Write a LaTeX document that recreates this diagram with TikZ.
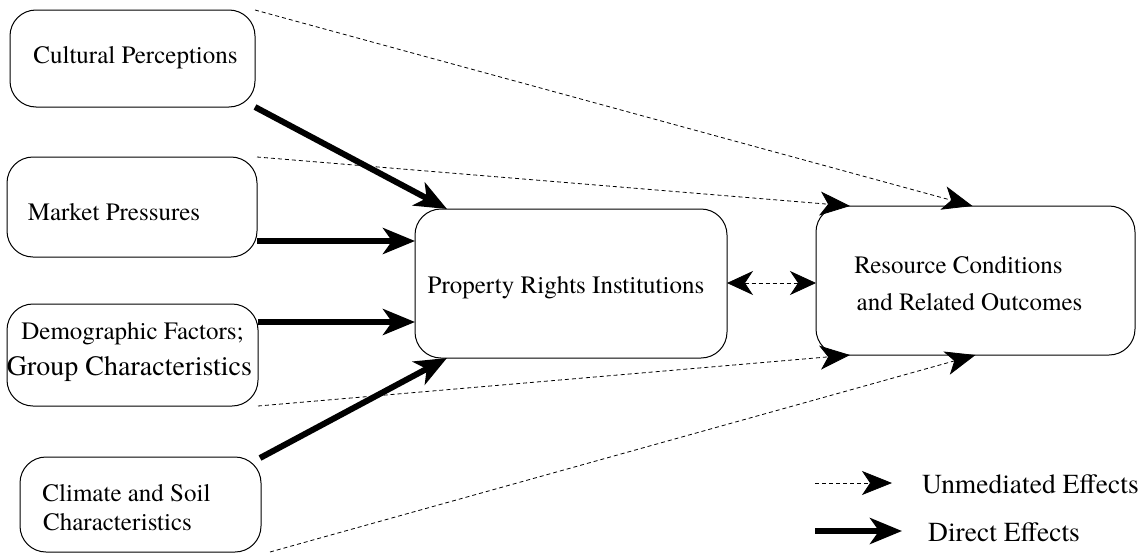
\documentclass[tikz,border=0pt]{standalone}
\usepackage{fontspec}
\newfontfamily\tms{texgyretermes-regular.otf}
\usetikzlibrary{arrows.meta}
\begin{document}
\begin{tikzpicture}[x=1pt,y=-1pt,
  box/.style={draw,line width=1pt,rounded corners=26pt,inner sep=0pt,outer sep=0pt},
  lbl/.style={font=\tms\fontsize{25}{30}\selectfont,inner sep=0pt,align=center},
  direct/.style={line width=6pt,-{Stealth[length=32pt,width=26pt,inset=9pt]}},
  unmed/.style={line width=0.8pt,dash pattern=on 4pt off 3pt,-{Stealth[length=30pt,width=24pt,inset=8pt]}},
  unmedboth/.style={line width=0.8pt,dash pattern=on 4pt off 3pt,{Stealth[length=26pt,width=24pt,inset=8pt]}-{Stealth[length=26pt,width=24pt,inset=8pt]}}]
\useasboundingbox (0,0) rectangle (1147,554);
% boxes
\node[box,minimum width=245pt,minimum height=97pt] (cp) at (132.5,58.5) {};
\node[box,minimum width=250pt,minimum height=100pt] (mp) at (132,207) {};
\node[box,minimum width=251pt,minimum height=102pt] (df) at (132.5,355) {};
\node[box,minimum width=241pt,minimum height=95pt] (cs) at (140.5,504.5) {};
\node[box,minimum width=312pt,minimum height=149pt] (pr) at (571,283.5) {};
\node[box,minimum width=319pt,minimum height=149pt] (rc) at (975.5,280.5) {};
% texts
\node[lbl] (tcp) at (135.5,58) {Cultural Perceptions};
\node[lbl] (tmp) at (114,212) {Market Pressures};
\node[lbl] (tdf1) at (132.5,334) {Demographic Factors;};
\node[lbl,font=\tms\fontsize{28}{33}\selectfont] (tdf2) at (129.5,369) {Group Characteristics};
\node[lbl] (tcs1) at (126.5,493) {Climate and Soil};
\node[lbl] (tcs2) at (117.5,522) {Characteristics};
\node[lbl] (tpr) at (566,288) {Property Rights Institutions};
\node[lbl] (trc1) at (958.5,265) {Resource Conditions};
\node[lbl] (trc2) at (969.5,302) {and Related Outcomes};
% direct effects
\draw[direct] (cp.south east) -- ([xshift=32pt]pr.north west);
\draw[direct] (mp.east |- 0,241) -- (pr.west |- 0,241);
\draw[direct] (df.east |- 0,322) -- (pr.west |- 0,322);
\draw[direct] ([xshift=-1pt,yshift=-1pt]cs.north east) -- ([xshift=32pt]pr.south west);
% unmediated effects
\draw[unmed] (cp.north east) -- ([xshift=-3pt]rc.north);
\draw[unmed] (mp.north east) -- ([xshift=34pt]rc.north west);
\draw[unmed] (df.south east) -- ([xshift=34pt]rc.south west);
\draw[unmed] ([xshift=9pt]cs.south east) -- ([xshift=0pt]rc.south);
\draw[unmedboth] (pr.east |- 0,283) -- (rc.west |- 0,283);
% legend
\coordinate (l1a) at (815,483);
\coordinate (l1b) at (892,483);
\coordinate (l2a) at (815,531);
\coordinate (l2b) at (902,531);
\draw[unmed] (l1a) -- (l1b);
\draw[direct] (l2a) -- (l2b);
\node[lbl,anchor=west,font=\tms\fontsize{27.5}{33}\selectfont] (tl1) at (922,484) {Unmediated Effects};
\node[lbl,anchor=west,font=\tms\fontsize{27.5}{33}\selectfont] (tl2) at (928,532) {Direct Effects};
\end{tikzpicture}
\end{document}
